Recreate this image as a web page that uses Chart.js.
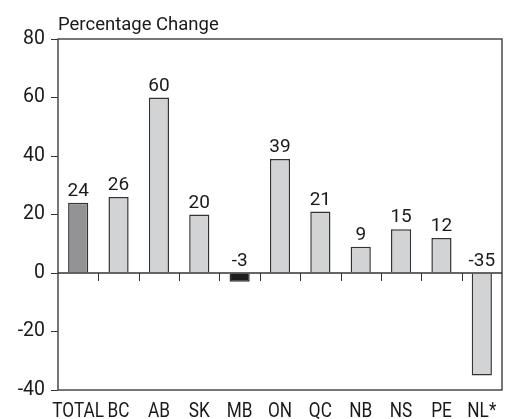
<!DOCTYPE html>
<html><head><meta charset="utf-8">
<script src="https://cdn.jsdelivr.net/npm/chart.js@4"></script>
<style>html,body{margin:0;padding:0;background:#fff}#c{display:block}</style>
</head><body>
<canvas id="c" width="515" height="419"></canvas>
<script>
const categories = ["TOTAL","BC","AB","SK","MB","ON","QC","NB","NS","PE","NL*"];
const values = [24,26,60,20,-3,39,21,9,15,12,-35];
const yTicks = [-40,-20,0,20,40,60,80];
const axisTitle = "Percentage Change";

const FONT = "Roboto, sans-serif";
const barColors = categories.map((c,i)=> i===0 ? '#939396' : (values[i]===-3 ? '#1e1e1e' : '#d2d3d5'));

const decor = {
  id:'decor',
  afterDatasetsDraw(chart){
    const {ctx, chartArea:a, scales:{x,y}} = chart;
    ctx.save();
    ctx.strokeStyle='#4a4a4a'; ctx.lineWidth=1.5;
    ctx.strokeRect(a.left, a.top, a.right-a.left, a.bottom-a.top);
    const y0 = y.getPixelForValue(0);
    ctx.strokeStyle='#333'; ctx.lineWidth=1.3;
    ctx.beginPath(); ctx.moveTo(a.left,y0); ctx.lineTo(a.right,y0); ctx.stroke();
    const w = (a.right-a.left)/categories.length;
    ctx.lineWidth=1;
    for(let i=1;i<categories.length;i++){
      const px = Math.round(x.getPixelForValue(i) - w/2)+0.5;
      ctx.beginPath(); ctx.moveTo(px,y0); ctx.lineTo(px,y0+8); ctx.stroke();
    }
    ctx.fillStyle='#1a1a1a'; ctx.font="19px "+FONT; ctx.textAlign='center'; ctx.textBaseline='alphabetic';
    const meta = chart.getDatasetMeta(0);
    meta.data.forEach((bar,i)=>{
      const v = values[i];
      const top = v>=0 ? bar.y : y0;
      ctx.fillText(String(v), bar.x, top-7);
    });
    // category labels (condensed)
    ctx.font="20px "+FONT;
    categories.forEach((c,i)=>{
      const cx = x.getPixelForValue(i);
      ctx.save();
      ctx.translate(cx, 417);
      ctx.scale(0.86,1);
      ctx.fillText(c, 0, 0);
      ctx.restore();
    });
    ctx.textAlign='left'; ctx.font="18.5px "+FONT;
    ctx.fillText(axisTitle, a.left, 30);
    ctx.restore();
  }
};

new Chart(document.getElementById('c'), {
  type:'bar',
  data:{labels:categories, datasets:[{data:values, backgroundColor:barColors, borderColor:'#333', borderWidth:1.5, barPercentage:0.5, categoryPercentage:1}]},
  options:{
    responsive:false, animation:false,
    layout:{padding:{left:0,right:13,top:39,bottom:0}},
    plugins:{legend:{display:false}, tooltip:{enabled:false}},
    scales:{
      x:{
        grid:{display:false, drawTicks:false},
        border:{display:false},
        ticks:{display:false},
        afterFit(s){ s.height = 29; }
      },
      y:{
        min:-40, max:80,
        afterBuildTicks(s){ s.ticks = yTicks.map(v=>({value:v})); },
        grid:{drawOnChartArea:false, drawTicks:true, tickLength:7, color:'#333'},
        border:{display:false},
        ticks:{color:'#1a1a1a', font:{family:FONT,size:19.5}, padding:6},
        afterFit(s){ s.width = 58; }
      }
    }
  },
  plugins:[decor]
});
</script>
</body></html>
